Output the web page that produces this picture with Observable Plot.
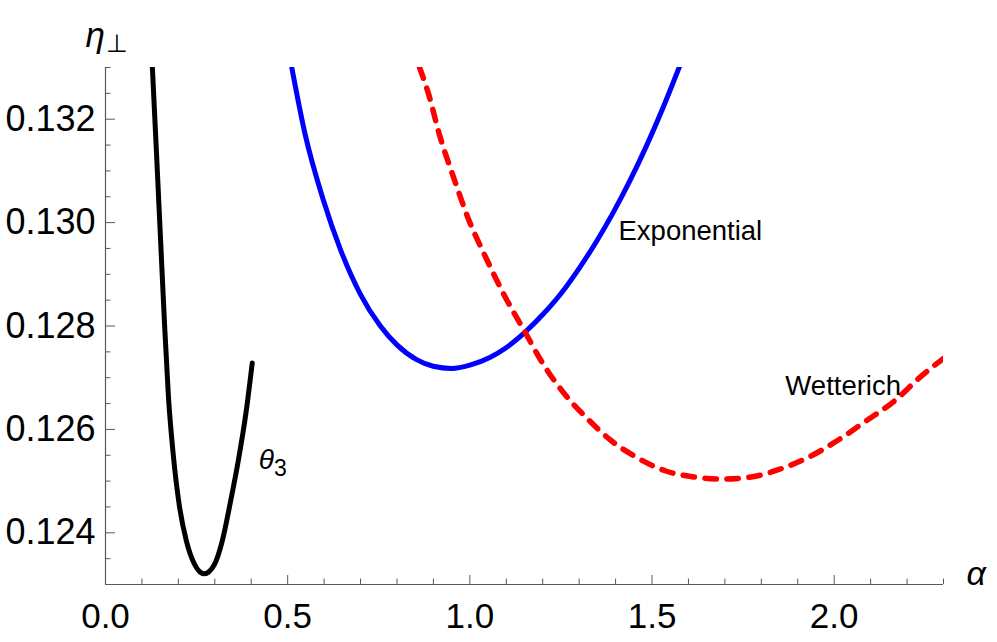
<!DOCTYPE html>
<html>
<head>
<meta charset="utf-8">
<script src="https://cdn.jsdelivr.net/npm/d3@7"></script>
<script src="https://cdn.jsdelivr.net/npm/@observablehq/plot@0.6"></script>
<style>
  html, body { margin: 0; padding: 0; background: #fff; }
  #chart svg { display: block; }
</style>
</head>
<body>
<div id="chart"></div>
<script>
// θ3 regulator
const alphaTheta = [0.12877, 0.13973, 0.15068, 0.16164, 0.17260, 0.18630, 0.20274, 0.22192, 0.24384, 0.27123, 0.29863, 0.32055, 0.34247, 0.36438, 0.38630, 0.40274];
const etaTheta   = [0.132985, 0.131382, 0.129739, 0.128097, 0.126647, 0.125488, 0.124522, 0.123845, 0.123401, 0.123208, 0.123382, 0.123845, 0.124580, 0.125391, 0.126357, 0.127285];
// Exponential regulator
const alphaExp = [0.51151, 0.54795, 0.59808, 0.64384, 0.69863, 0.75342, 0.79918, 0.85397, 0.89945, 0.94986, 1.0, 1.05479, 1.10055, 1.15534, 1.20082, 1.25562, 1.30137, 1.34712, 1.39260, 1.43836, 1.48411, 1.52959, 1.57534];
const etaExp   = [0.132991, 0.131706, 0.130433, 0.129498, 0.128628, 0.128010, 0.127639, 0.127349, 0.127221, 0.127179, 0.127243, 0.127391, 0.127585, 0.127905, 0.128226, 0.128678, 0.129130, 0.129631, 0.130184, 0.130796, 0.131474, 0.132213, 0.133018];
// Wetterich regulator
const alphaWet = [0.862, 0.887, 0.9165, 0.9556, 0.995, 1.0441, 1.0934, 1.1523, 1.2016, 1.2606, 1.3195, 1.3884, 1.4573, 1.5359, 1.6145, 1.6931, 1.7721, 1.8507, 1.9293, 2.008, 2.0866, 2.1652, 2.2342, 2.303];
const etaWet   = [0.1330, 0.13248, 0.13170, 0.13087, 0.13009, 0.12932, 0.12861, 0.12787, 0.12726, 0.12668, 0.12623, 0.12578, 0.12546, 0.12520, 0.12508, 0.12504, 0.12508, 0.12523, 0.12546, 0.12578, 0.12616, 0.12655, 0.12700, 0.12739];

// ticks
const xMajor = [0, 0.5, 1.0, 1.5, 2.0];
const xMinor = [0.1, 0.2, 0.3, 0.4, 0.6, 0.7, 0.8, 0.9, 1.1, 1.2, 1.3, 1.4, 1.6, 1.7, 1.8, 1.9, 2.1, 2.2, 2.3];
const yMajor = [0.124, 0.126, 0.128, 0.130, 0.132];
const yMinor = [0.1235, 0.1245, 0.1250, 0.1255, 0.1265, 0.1270, 0.1275, 0.1285, 0.1290, 0.1295, 0.1305, 0.1310, 0.1315, 0.1325, 0.1330];

const toRows = (xs, ys) => xs.map((a, i) => ({a, e: ys[i]}));
const theta = toRows(alphaTheta, etaTheta);
const expo = toRows(alphaExp, etaExp);
const wet = toRows(alphaWet, etaWet);

const axisColor = "#5a5a5a";
const font = "'Liberation Sans', Arial, sans-serif";

const chart = Plot.plot({
  width: 997,
  height: 642,
  marginLeft: 105,
  marginRight: 54,
  marginTop: 67,
  marginBottom: 58,
  style: {fontFamily: font, background: "#fff", color: "#000"},
  x: {domain: [0, 2.3]},
  y: {domain: [0.123, 0.133]},
  marks: [
    // axis lines
    Plot.ruleX([0], {stroke: axisColor, strokeWidth: 1.2}),
    Plot.ruleY([0.123], {stroke: axisColor, strokeWidth: 1.2}),
    // inward ticks
    Plot.axisX(xMajor, {tickSize: -9, tickFormat: () => "", label: null, stroke: axisColor}),
    Plot.axisX(xMinor, {tickSize: -5.5, tickFormat: () => "", label: null, stroke: axisColor}),
    Plot.axisY(yMajor, {tickSize: -10, tickFormat: () => "", label: null, stroke: axisColor}),
    Plot.axisY(yMinor, {tickSize: -5.5, tickFormat: () => "", label: null, stroke: axisColor}),
    // tick labels
    Plot.axisX(xMajor, {tickSize: 0, tickPadding: 19, tickFormat: d3.format(".1f"), label: null, fontSize: 35, fill: "#000"}),
    Plot.axisY(yMajor, {tickSize: 0, tickPadding: 10, tickFormat: d3.format(".3f"), label: null, fontSize: 36, fill: "#000"}),
    // curves
    Plot.line(theta, {x: "a", y: "e", stroke: "#000", strokeWidth: 5, curve: "monotone-x", clip: true}),
    Plot.line(expo, {x: "a", y: "e", stroke: "#0000ff", strokeWidth: 5, curve: "monotone-x", clip: true}),
    Plot.line(wet, {x: "a", y: "e", stroke: "#ff0000", strokeWidth: 5.5, strokeDasharray: "11.5,10.5", curve: "monotone-x", clip: true}),
    // curve labels
    Plot.text(["Exponential"], {x: () => 1.408, y: () => 0.12984, text: d => d, textAnchor: "start", fontSize: 27.5, fill: "#000"}),
    Plot.text(["Wetterich"], {x: () => 1.866, y: () => 0.12683, text: d => d, textAnchor: "start", fontSize: 27.5, fill: "#000"}),
    Plot.text(["θ"], {x: () => 0.4205, y: () => 0.12541, text: d => d, textAnchor: "start", fontSize: 28, fontStyle: "italic", fill: "#000"}),
    Plot.text(["3"], {x: () => 0.4625, y: () => 0.12524, text: d => d, textAnchor: "start", fontSize: 23, fill: "#000"}),
    // axis titles
    Plot.text(["η"], {frameAnchor: "top-left", text: d => d, textAnchor: "start", dx: -20, dy: -45, fontSize: 35, fontStyle: "italic", fill: "#000"}),
    Plot.text(["⊥"], {frameAnchor: "top-left", text: d => d, textAnchor: "start", dx: 0, dy: -33, fontSize: 25, fill: "#000"}),
    Plot.text(["α"], {frameAnchor: "bottom-right", text: d => d, textAnchor: "start", dx: 23, dy: 0, fontSize: 34, fontStyle: "italic", fill: "#000"})
  ]
});

document.getElementById("chart").appendChild(chart);
</script>
</body>
</html>
